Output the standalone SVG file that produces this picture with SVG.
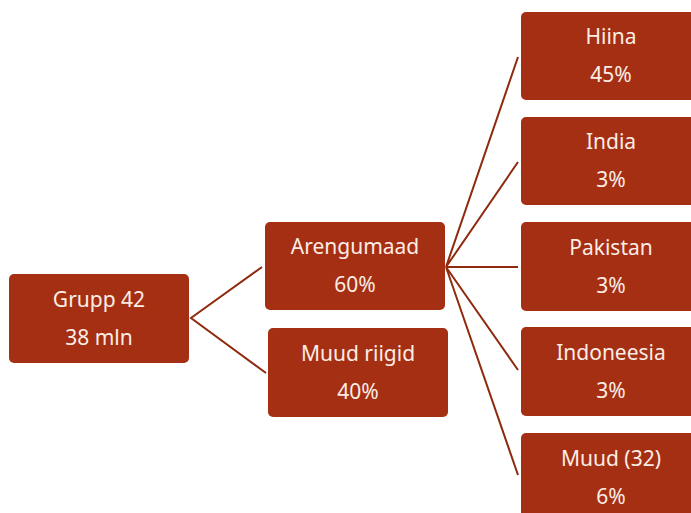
<svg xmlns="http://www.w3.org/2000/svg" width="691" height="513" viewBox="0 0 691 513">
<style>
.box{fill:#A52F12;}
.t{font-family:"Noto Sans","Lato",sans-serif;font-size:21px;fill:#FBEDE6;text-anchor:middle;}
.c{stroke:#8E2A0E;stroke-width:2;fill:none;}
</style>
<rect width="691" height="513" fill="#ffffff"/>
<g id="connectors">
<path class="c" d="M262,267 L191,318 L266,373"/>
<path class="c" d="M518,57 L446,267 M518,162 L446,267 M518,267 L446,267 M518,370 L446,267 M518,475 L446,267"/>
</g>
<g id="grupp42"><rect class="box" x="9" y="274" width="180" height="89" rx="5"/><text class="t" x="99" y="307">Grupp 42</text><text class="t" x="99" y="345">38 mln</text></g>
<g id="arengumaad"><rect class="box" x="265" y="222" width="180" height="88" rx="5"/><text class="t" x="355" y="254">Arengumaad</text><text class="t" x="355" y="292">60%</text></g>
<g id="muudriigid"><rect class="box" x="268" y="328" width="180" height="89" rx="5"/><text class="t" x="358" y="361">Muud riigid</text><text class="t" x="358" y="399">40%</text></g>
<g id="hiina"><rect class="box" x="521" y="12" width="180" height="88" rx="5"/><text class="t" x="611" y="44">Hiina</text><text class="t" x="611" y="82">45%</text></g>
<g id="india"><rect class="box" x="521" y="117" width="180" height="88" rx="5"/><text class="t" x="611" y="149">India</text><text class="t" x="611" y="187">3%</text></g>
<g id="pakistan"><rect class="box" x="521" y="222" width="180" height="89" rx="5"/><text class="t" x="611" y="255">Pakistan</text><text class="t" x="611" y="293">3%</text></g>
<g id="indoneesia"><rect class="box" x="521" y="327" width="180" height="89" rx="5"/><text class="t" x="611" y="360">Indoneesia</text><text class="t" x="611" y="398">3%</text></g>
<g id="muud32"><rect class="box" x="521" y="433" width="180" height="89" rx="5"/><text class="t" x="611" y="466">Muud (32)</text><text class="t" x="611" y="504">6%</text></g>
</svg>
